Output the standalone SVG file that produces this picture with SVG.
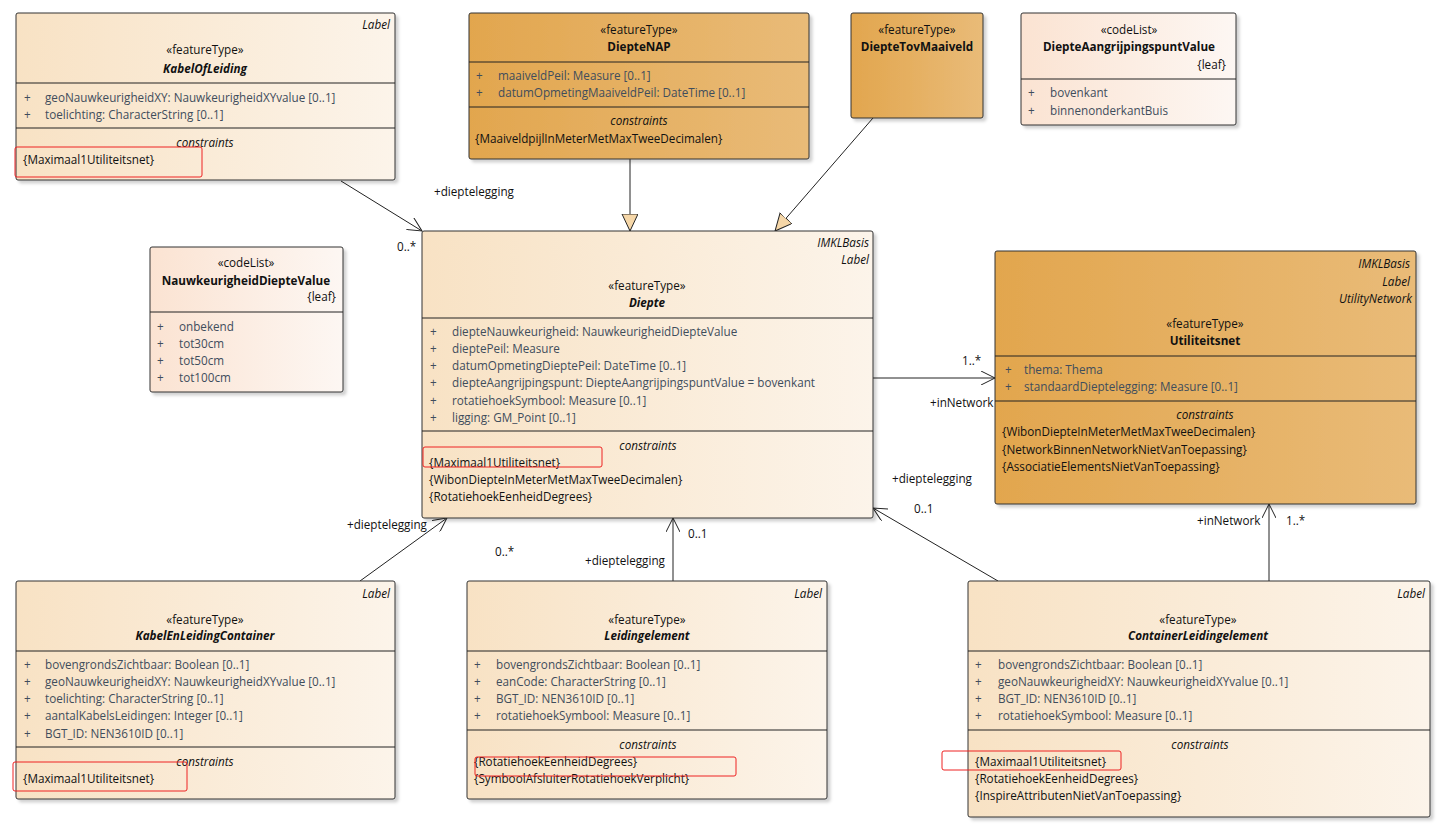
<svg xmlns="http://www.w3.org/2000/svg" width="1451" height="834" viewBox="0 0 1451 834">
<defs>
<linearGradient id="gLight" x1="0" y1="0" x2="1" y2="0"><stop offset="0" stop-color="#f8e2c4"/><stop offset="1" stop-color="#fcf4ea"/></linearGradient>
<linearGradient id="gCode" x1="0" y1="0" x2="1" y2="0"><stop offset="0" stop-color="#fbe3d2"/><stop offset="1" stop-color="#fdf7f3"/></linearGradient>
<linearGradient id="gOrange" x1="0" y1="0" x2="1" y2="0"><stop offset="0" stop-color="#e2a64e"/><stop offset="1" stop-color="#e9bb78"/></linearGradient>
<filter id="sh" x="-5%" y="-5%" width="112%" height="115%"><feDropShadow dx="3" dy="3" stdDeviation="1.5" flood-color="#000" flood-opacity="0.18"/></filter>
<marker id="open" markerWidth="16" markerHeight="14" refX="14" refY="7" orient="auto" markerUnits="userSpaceOnUse"><path d="M0,0 L14,7 L0,14" fill="none" stroke="#222" stroke-width="1"/></marker>
<marker id="gen" markerWidth="18" markerHeight="18" refX="17" refY="8" orient="auto" markerUnits="userSpaceOnUse"><path d="M0,0 L17,8 L0,16 Z" fill="#f6d7a8" stroke="#222" stroke-width="1"/></marker>
</defs>
<style>
text{font-family:"Open Sans","Noto Sans","Liberation Sans",sans-serif;font-size:11.7px;fill:#111}
.box{stroke:#333;stroke-width:1;filter:url(#sh)}
.div{stroke:#222;stroke-width:1}
.c{text-anchor:middle}
.r{text-anchor:end}
.it{font-style:italic}
.b{font-weight:bold}
.bi{font-weight:bold;font-style:italic}
.at{fill:#3f4d5c}
.red{fill:none;stroke:#ee2222;stroke-width:1}
.ln{stroke:#222;stroke-width:1;fill:none}
</style>
<rect width="1451" height="834" fill="#ffffff"/>

<g id="connectors">
<line class="ln" x1="341" y1="181" x2="422" y2="231" marker-end="url(#open)"/>
<text x="434" y="196">+dieptelegging</text>
<text x="397" y="251">0..*</text>
<line class="ln" x1="630" y1="159" x2="630" y2="231" marker-end="url(#gen)"/>
<line class="ln" x1="873" y1="118" x2="775" y2="231" marker-end="url(#gen)"/>
<line class="ln" x1="873" y1="378" x2="995" y2="378" marker-end="url(#open)"/>
<text x="962" y="365">1..*</text>
<text x="930" y="407">+inNetwork</text>
<line class="ln" x1="360" y1="581" x2="447" y2="518" marker-end="url(#open)"/>
<text x="347" y="529">+dieptelegging</text>
<text x="495" y="556">0..*</text>
<line class="ln" x1="673" y1="581" x2="673" y2="518" marker-end="url(#open)"/>
<text x="585" y="565">+dieptelegging</text>
<text x="688" y="538">0..1</text>
<line class="ln" x1="998" y1="581" x2="873" y2="508" marker-end="url(#open)"/>
<text x="892" y="483">+dieptelegging</text>
<text x="914" y="513">0..1</text>
<line class="ln" x1="1269" y1="581" x2="1269" y2="504" marker-end="url(#open)"/>
<text x="1197" y="525">+inNetwork</text>
<text x="1286" y="525">1..*</text>
</g>

<g id="KabelOfLeiding">
<rect class="box" x="16" y="13" width="379" height="167" rx="2" fill="url(#gLight)"/>
<text class="r it" x="390" y="29">Label</text>
<text class="c" x="205" y="54">«featureType»</text>
<text class="c bi" x="205" y="73">KabelOfLeiding</text>
<line class="div" x1="16" y1="83" x2="395" y2="83"/>
<text class="at" x="24" y="102">+</text><text class="at" x="45" y="102">geoNauwkeurigheidXY: NauwkeurigheidXYvalue [0..1]</text>
<text class="at" x="24" y="119">+</text><text class="at" x="45" y="119">toelichting: CharacterString [0..1]</text>
<line class="div" x1="16" y1="128" x2="395" y2="128"/>
<text class="c it" x="205" y="147">constraints</text>
<text x="23" y="164">{Maximaal1Utiliteitsnet}</text>
<rect class="red" x="15" y="147" width="187" height="30" rx="2"/>
</g>

<g id="DiepteNAP">
<rect class="box" x="469" y="13" width="340" height="146" rx="2" fill="url(#gOrange)"/>
<text class="c" x="639" y="34">«featureType»</text>
<text class="c b" x="639" y="51">DiepteNAP</text>
<line class="div" x1="469" y1="62" x2="809" y2="62"/>
<text class="at" x="476" y="80">+</text><text class="at" x="498" y="80">maaiveldPeil: Measure [0..1]</text>
<text class="at" x="476" y="97">+</text><text class="at" x="498" y="97">datumOpmetingMaaiveldPeil: DateTime [0..1]</text>
<line class="div" x1="469" y1="107" x2="809" y2="107"/>
<text class="c it" x="639" y="125">constraints</text>
<text x="475" y="143">{MaaiveldpijlInMeterMetMaxTweeDecimalen}</text>
</g>

<g id="DiepteTovMaaiveld">
<rect class="box" x="851" y="13" width="132" height="105" rx="2" fill="url(#gOrange)"/>
<text class="c" x="917" y="34">«featureType»</text>
<text class="c b" x="917" y="51">DiepteTovMaaiveld</text>
</g>

<g id="DiepteAangrijpingspuntValue">
<rect class="box" x="1021" y="13" width="215" height="112" rx="2" fill="url(#gCode)"/>
<text class="c" x="1129" y="34">«codeList»</text>
<text class="c b" x="1129" y="51">DiepteAangrijpingspuntValue</text>
<text class="r" x="1226" y="69">{leaf}</text>
<line class="div" x1="1021" y1="79" x2="1236" y2="79"/>
<text class="at" x="1028" y="97">+</text><text class="at" x="1050" y="97">bovenkant</text>
<text class="at" x="1028" y="115">+</text><text class="at" x="1050" y="115">binnenonderkantBuis</text>
</g>

<g id="NauwkeurigheidDiepteValue">
<rect class="box" x="150" y="247" width="193" height="145" rx="2" fill="url(#gCode)"/>
<text class="c" x="246" y="267">«codeList»</text>
<text class="c b" x="246" y="285">NauwkeurigheidDiepteValue</text>
<text class="r" x="336" y="301">{leaf}</text>
<line class="div" x1="150" y1="312" x2="343" y2="312"/>
<text class="at" x="157" y="331">+</text><text class="at" x="179" y="331">onbekend</text>
<text class="at" x="157" y="348">+</text><text class="at" x="179" y="348">tot30cm</text>
<text class="at" x="157" y="365">+</text><text class="at" x="179" y="365">tot50cm</text>
<text class="at" x="157" y="382">+</text><text class="at" x="179" y="382">tot100cm</text>
</g>

<g id="Diepte">
<rect class="box" x="422" y="231" width="451" height="287" rx="2" fill="url(#gLight)"/>
<text class="r it" x="869" y="247">IMKLBasis</text>
<text class="r it" x="869" y="264">Label</text>
<text class="c" x="647" y="290">«featureType»</text>
<text class="c bi" x="647" y="307">Diepte</text>
<line class="div" x1="422" y1="318" x2="873" y2="318"/>
<text class="at" x="430" y="336">+</text><text class="at" x="452" y="336">diepteNauwkeurigheid: NauwkeurigheidDiepteValue</text>
<text class="at" x="430" y="353">+</text><text class="at" x="452" y="353">dieptePeil: Measure</text>
<text class="at" x="430" y="370">+</text><text class="at" x="452" y="370">datumOpmetingDieptePeil: DateTime [0..1]</text>
<text class="at" x="430" y="387">+</text><text class="at" x="452" y="387">diepteAangrijpingspunt: DiepteAangrijpingspuntValue = bovenkant</text>
<text class="at" x="430" y="405">+</text><text class="at" x="452" y="405">rotatiehoekSymbool: Measure [0..1]</text>
<text class="at" x="430" y="422">+</text><text class="at" x="452" y="422">ligging: GM_Point [0..1]</text>
<line class="div" x1="422" y1="431" x2="873" y2="431"/>
<text class="c it" x="648" y="450">constraints</text>
<text x="429" y="467">{Maximaal1Utiliteitsnet}</text>
<text x="429" y="484">{WibonDiepteInMeterMetMaxTweeDecimalen}</text>
<text x="429" y="501">{RotatiehoekEenheidDegrees}</text>
<rect class="red" x="423" y="447" width="179" height="20" rx="2"/>
</g>

<g id="Utiliteitsnet">
<rect class="box" x="995" y="251" width="421" height="253" rx="2" fill="url(#gOrange)"/>
<text class="r it" x="1410" y="268">IMKLBasis</text>
<text class="r it" x="1410" y="286">Label</text>
<text class="r it" x="1412" y="303">UtilityNetwork</text>
<text class="c" x="1205" y="328">«featureType»</text>
<text class="c b" x="1205" y="345">Utiliteitsnet</text>
<line class="div" x1="995" y1="356" x2="1416" y2="356"/>
<text class="at" x="1005" y="374">+</text><text class="at" x="1024" y="374">thema: Thema</text>
<text class="at" x="1005" y="391">+</text><text class="at" x="1024" y="391">standaardDieptelegging: Measure [0..1]</text>
<line class="div" x1="995" y1="401" x2="1416" y2="401"/>
<text class="c it" x="1205" y="419">constraints</text>
<text x="1002" y="436">{WibonDiepteInMeterMetMaxTweeDecimalen}</text>
<text x="1002" y="454">{NetworkBinnenNetworkNietVanToepassing}</text>
<text x="1002" y="471">{AssociatieElementsNietVanToepassing}</text>
</g>

<g id="KabelEnLeidingContainer">
<rect class="box" x="16" y="581" width="379" height="218" rx="2" fill="url(#gLight)"/>
<text class="r it" x="390" y="598">Label</text>
<text class="c" x="205" y="624">«featureType»</text>
<text class="c bi" x="205" y="640">KabelEnLeidingContainer</text>
<line class="div" x1="16" y1="651" x2="395" y2="651"/>
<text class="at" x="24" y="669">+</text><text class="at" x="45" y="669">bovengrondsZichtbaar: Boolean [0..1]</text>
<text class="at" x="24" y="686">+</text><text class="at" x="45" y="686">geoNauwkeurigheidXY: NauwkeurigheidXYvalue [0..1]</text>
<text class="at" x="24" y="703">+</text><text class="at" x="45" y="703">toelichting: CharacterString [0..1]</text>
<text class="at" x="24" y="720">+</text><text class="at" x="45" y="720">aantalKabelsLeidingen: Integer [0..1]</text>
<text class="at" x="24" y="738">+</text><text class="at" x="45" y="738">BGT_ID: NEN3610ID [0..1]</text>
<line class="div" x1="16" y1="747" x2="395" y2="747"/>
<text class="c it" x="205" y="766">constraints</text>
<text x="23" y="783">{Maximaal1Utiliteitsnet}</text>
<rect class="red" x="13" y="762" width="174" height="29" rx="2"/>
</g>

<g id="Leidingelement">
<rect class="box" x="467" y="581" width="360" height="218" rx="2" fill="url(#gLight)"/>
<text class="r it" x="822" y="598">Label</text>
<text class="c" x="647" y="624">«featureType»</text>
<text class="c bi" x="647" y="640">Leidingelement</text>
<line class="div" x1="467" y1="651" x2="827" y2="651"/>
<text class="at" x="474" y="669">+</text><text class="at" x="496" y="669">bovengrondsZichtbaar: Boolean [0..1]</text>
<text class="at" x="474" y="686">+</text><text class="at" x="496" y="686">eanCode: CharacterString [0..1]</text>
<text class="at" x="474" y="703">+</text><text class="at" x="496" y="703">BGT_ID: NEN3610ID [0..1]</text>
<text class="at" x="474" y="720">+</text><text class="at" x="496" y="720">rotatiehoekSymbool: Measure [0..1]</text>
<line class="div" x1="467" y1="730" x2="827" y2="730"/>
<text class="c it" x="648" y="749">constraints</text>
<text x="474" y="766">{RotatiehoekEenheidDegrees}</text>
<text x="474" y="783">{SymboolAfsluiterRotatiehoekVerplicht}</text>
<rect class="red" x="475" y="757" width="261" height="19" rx="2"/>
</g>

<g id="ContainerLeidingelement">
<rect class="box" x="968" y="581" width="462" height="236" rx="2" fill="url(#gLight)"/>
<text class="r it" x="1425" y="598">Label</text>
<text class="c" x="1198" y="624">«featureType»</text>
<text class="c bi" x="1198" y="640">ContainerLeidingelement</text>
<line class="div" x1="968" y1="651" x2="1430" y2="651"/>
<text class="at" x="975" y="669">+</text><text class="at" x="998" y="669">bovengrondsZichtbaar: Boolean [0..1]</text>
<text class="at" x="975" y="686">+</text><text class="at" x="998" y="686">geoNauwkeurigheidXY: NauwkeurigheidXYvalue [0..1]</text>
<text class="at" x="975" y="703">+</text><text class="at" x="998" y="703">BGT_ID: NEN3610ID [0..1]</text>
<text class="at" x="975" y="720">+</text><text class="at" x="998" y="720">rotatiehoekSymbool: Measure [0..1]</text>
<line class="div" x1="968" y1="730" x2="1430" y2="730"/>
<text class="c it" x="1200" y="749">constraints</text>
<text x="975" y="766">{Maximaal1Utiliteitsnet}</text>
<text x="975" y="783">{RotatiehoekEenheidDegrees}</text>
<text x="975" y="800">{InspireAttributenNietVanToepassing}</text>
<rect class="red" x="942" y="751" width="179" height="19" rx="2"/>
</g>
</svg>
